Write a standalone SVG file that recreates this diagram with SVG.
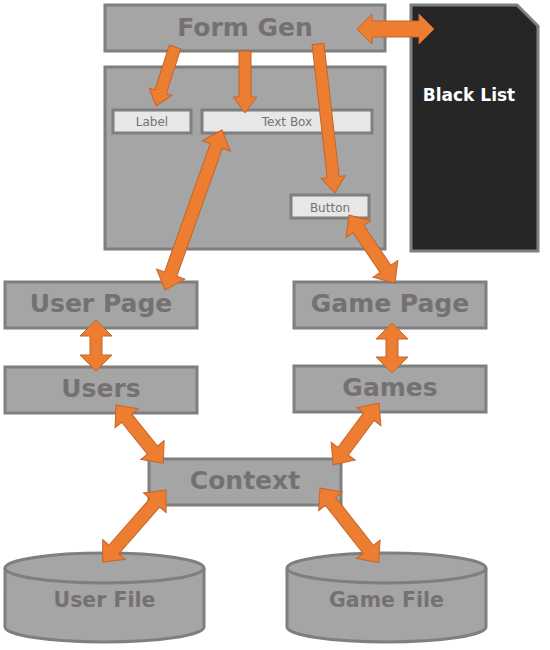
<svg xmlns="http://www.w3.org/2000/svg" width="550" height="650" viewBox="0 0 550 650">
<style>
.box{fill:#a5a5a5;stroke:#7f7f7f;stroke-width:3}
.sm{fill:#e7e7e7;stroke:#7f7f7f;stroke-width:3}
.big{font-family:"DejaVu Sans",Verdana,sans-serif;font-weight:bold;font-size:25px;fill:#767171;text-anchor:middle}
.cyl{font-family:"DejaVu Sans",Verdana,sans-serif;font-weight:bold;font-size:20.5px;fill:#767171;text-anchor:middle}
.small{font-family:"DejaVu Sans",Verdana,sans-serif;font-size:12px;fill:#767171;text-anchor:middle}
.arr{fill:#ed7d31;stroke:#c5652a;stroke-width:1}
</style>
<rect width="550" height="650" fill="#ffffff"/>
<g id="formgen">
<rect class="box" x="105" y="5" width="280" height="46"/>
<text class="big" x="245" y="36">Form Gen</text>
</g>
<g id="panel">
<rect class="box" x="105" y="67" width="280" height="182"/>
</g>
<g id="label">
<rect class="sm" x="113" y="110" width="78" height="23"/>
<text class="small" x="152" y="126">Label</text>
</g>
<g id="textbox">
<rect class="sm" x="202" y="110" width="170" height="23"/>
<text class="small" x="287" y="126">Text Box</text>
</g>
<g id="button">
<rect class="sm" x="291" y="195" width="78" height="23"/>
<text class="small" x="330" y="212">Button</text>
</g>
<g id="blacklist">
<path d="M411,5 L517,5 L538,26 L538,251 L411,251 Z" fill="#262626" stroke="#7f7f7f" stroke-width="3"/>
<text x="469" y="101" font-family="DejaVu Sans,Verdana,sans-serif" font-weight="bold" font-size="17px" fill="#ffffff" text-anchor="middle">Black List</text>
</g>
<g id="userpage">
<rect class="box" x="5" y="282" width="192" height="46"/>
<text class="big" x="101" y="312">User Page</text>
</g>
<g id="gamepage">
<rect class="box" x="294" y="282" width="192" height="46"/>
<text class="big" x="390" y="312">Game Page</text>
</g>
<g id="users">
<rect class="box" x="5" y="367" width="192" height="46"/>
<text class="big" x="101" y="397">Users</text>
</g>
<g id="games">
<rect class="box" x="294" y="366" width="192" height="46"/>
<text class="big" x="390" y="396">Games</text>
</g>
<g id="context">
<rect class="box" x="149" y="459" width="192" height="46"/>
<text class="big" x="245" y="489">Context</text>
</g>
<g id="userfile">
<path class="box" d="M5,568 A99.5,15 0 0 1 204,568 L204,627 A99.5,15 0 0 1 5,627 Z"/>
<path d="M5,568 A99.5,15 0 0 0 204,568" fill="none" stroke="#7f7f7f" stroke-width="3"/>
<text class="cyl" x="104.5" y="607">User File</text>
</g>
<g id="gamefile">
<path class="box" d="M287,568 A99.5,15 0 0 1 486,568 L486,627 A99.5,15 0 0 1 287,627 Z"/>
<path d="M287,568 A99.5,15 0 0 0 486,568" fill="none" stroke="#7f7f7f" stroke-width="3"/>
<text class="cyl" x="386.5" y="607">Game File</text>
</g>
<g id="connectors">
<!-- single arrows -->
<polygon class="arr" transform="translate(175,47) rotate(107.8)" points="0,-6 47,-6 47,-12 62,0 47,12 47,6 0,6"/>
<polygon class="arr" transform="translate(245,51) rotate(90)" points="0,-6 46,-6 46,-12 62,0 46,12 46,6 0,6"/>
<polygon class="arr" transform="translate(318,44) rotate(83.5)" points="0,-6 134,-6 134,-12 150,0 134,12 134,6 0,6"/>
<!-- double arrows -->
<polygon class="arr" transform="translate(357,29)" points="0,0 15,-15 15,-8 62,-8 62,-15 77,0 62,15 62,8 15,8 15,15"/>
<polygon class="arr" transform="translate(222,130) rotate(109.6)" points="0,0 17,-15 17,-6.5 153,-6.5 153,-15 170,0 153,15 153,6.5 17,6.5 17,15"/>
<polygon class="arr" transform="translate(349,215) rotate(55.9)" points="0,0 17,-15 17,-6.5 65,-6.5 65,-15 82,0 65,15 65,6.5 17,6.5 17,15"/>
<polygon class="arr" transform="translate(96,320) rotate(90)" points="0,0 16,-16 16,-6 35,-6 35,-16 51,0 35,16 35,6 16,6 16,16"/>
<polygon class="arr" transform="translate(392,323) rotate(90)" points="0,0 16,-16 16,-6 34,-6 34,-16 50,0 34,16 34,6 16,6 16,16"/>
<polygon class="arr" transform="translate(116,405) rotate(51)" points="0,0 17,-15 17,-6.5 58,-6.5 58,-15 75,0 58,15 58,6.5 17,6.5 17,15"/>
<polygon class="arr" transform="translate(379,403) rotate(126.6)" points="0,0 17,-15 17,-6.5 60,-6.5 60,-15 77,0 60,15 60,6.5 17,6.5 17,15"/>
<polygon class="arr" transform="translate(166,490) rotate(131.2)" points="0,0 17,-15 17,-6.5 79,-6.5 79,-15 96,0 79,15 79,6.5 17,6.5 17,15"/>
<polygon class="arr" transform="translate(320,488) rotate(51.8)" points="0,0 17,-15 17,-6.5 78,-6.5 78,-15 95,0 78,15 78,6.5 17,6.5 17,15"/>
</g>
</svg>
